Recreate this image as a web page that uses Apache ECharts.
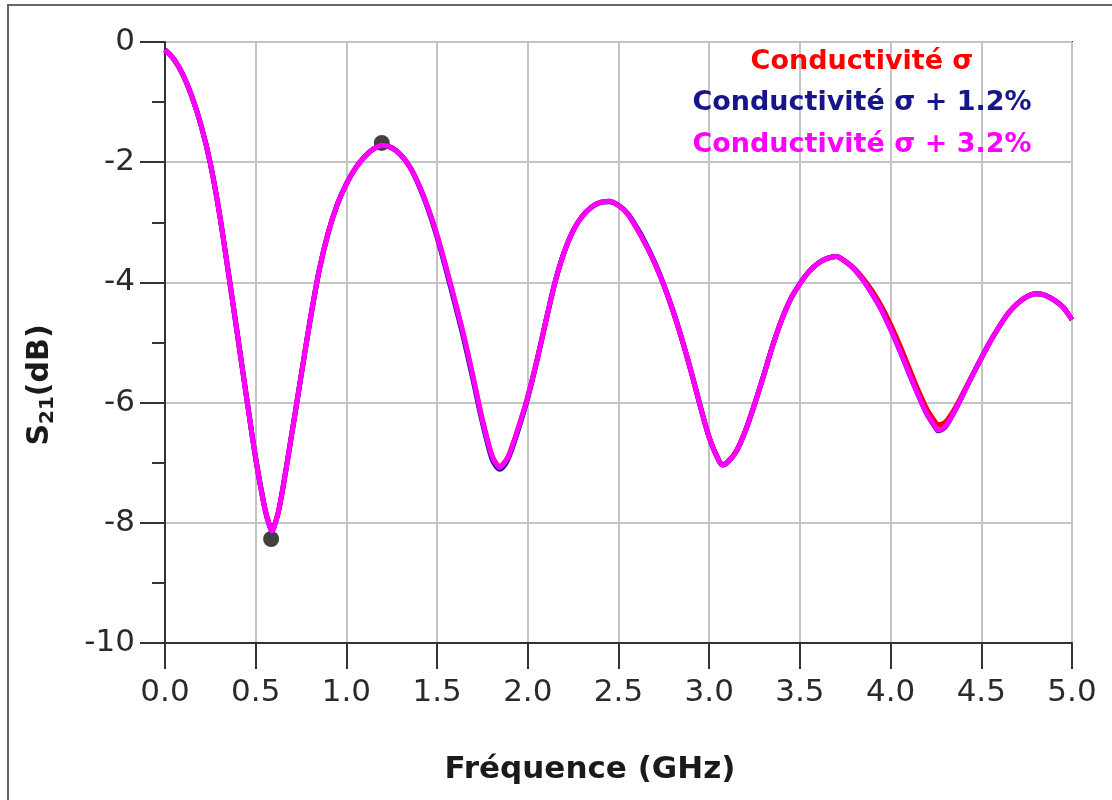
<!DOCTYPE html>
<html><head><meta charset="utf-8">
<script src="https://cdn.jsdelivr.net/npm/echarts@6/dist/echarts.min.js"></script>
<style>html,body{margin:0;padding:0;background:#fff}#c{width:1112px;height:800px}</style>
</head><body><div id="c"></div><script>
// Frequency (GHz)
const freq = [0,0.05,0.1,0.15,0.2,0.25,0.3,0.35,0.4,0.45,0.5,0.55,0.575,0.59,0.6,0.625,0.65,
0.7,0.75,0.8,0.85,0.9,0.95,1.0,1.05,1.1,1.15,1.2,1.25,1.3,1.35,1.4,1.45,1.5,1.55,1.6,1.65,1.7,1.75,1.8,
1.825,1.845,1.875,
1.9,1.95,2.0,2.05,2.1,2.15,2.2,2.25,2.3,2.35,2.4,2.45,2.5,2.55,2.6,2.65,2.7,2.75,2.8,2.85,2.9,2.95,3.0,3.05,
3.075,
3.1,3.15,3.2,3.25,3.3,3.35,3.4,3.45,3.5,3.55,3.6,3.65,3.7,3.75,3.8,3.85,3.9,3.95,4.0,4.05,4.1,4.15,4.2,4.25,
4.26,
4.3,4.35,4.4,4.45,4.5,4.55,4.6,4.65,4.7,4.75,4.8,4.85,4.9,4.95,5.0];

// S21 (dB) – conductivité σ
const sigma = [-0.13,-0.29,-0.55,-0.92,-1.4,-2.02,-2.85,-3.85,-4.88,-5.92,-6.93,-7.75,-8.03,-8.13,-8.07,-7.82,-7.42,
-6.5,-5.56,-4.63,-3.8,-3.17,-2.7,-2.36,-2.1,-1.91,-1.78,-1.72,-1.76,-1.88,-2.08,-2.38,-2.76,-3.22,-3.76,-4.33,-4.93,-5.6,-6.29,-6.86,
-7.01,-7.06,-6.98,
-6.84,-6.4,-5.9,-5.3,-4.64,-4.0,-3.5,-3.14,-2.9,-2.75,-2.67,-2.65,-2.72,-2.86,-3.1,-3.37,-3.68,-4.05,-4.47,-4.95,-5.48,-6.05,-6.58,-6.94,
-7.03,
-6.99,-6.8,-6.46,-6.03,-5.55,-5.05,-4.62,-4.27,-4.02,-3.82,-3.68,-3.6,-3.57,-3.65,-3.77,-3.94,-4.15,-4.4,-4.7,-5.04,-5.41,-5.78,-6.11,-6.34,
-6.37,
-6.33,-6.12,-5.84,-5.55,-5.26,-4.98,-4.73,-4.51,-4.35,-4.24,-4.19,-4.21,-4.29,-4.41,-4.62];

// S21 (dB) – conductivité σ + 1.2%
const sigma12 = [-0.13,-0.29,-0.55,-0.92,-1.4,-2.02,-2.85,-3.85,-4.88,-5.92,-6.93,-7.76,-8.04,-8.14,-8.08,-7.82,-7.42,
-6.5,-5.56,-4.63,-3.8,-3.17,-2.7,-2.36,-2.1,-1.91,-1.78,-1.72,-1.76,-1.88,-2.08,-2.39,-2.78,-3.25,-3.8,-4.38,-4.98,-5.65,-6.34,-6.92,
-7.06,-7.11,-7.03,
-6.88,-6.43,-5.92,-5.31,-4.64,-4.0,-3.5,-3.14,-2.9,-2.75,-2.67,-2.66,-2.72,-2.85,-3.08,-3.35,-3.67,-4.04,-4.47,-4.95,-5.48,-6.05,-6.58,-6.95,
-7.04,
-7.0,-6.81,-6.47,-6.03,-5.55,-5.05,-4.62,-4.27,-4.02,-3.82,-3.68,-3.6,-3.57,-3.65,-3.78,-3.97,-4.2,-4.46,-4.78,-5.13,-5.5,-5.86,-6.19,-6.43,
-6.47,
-6.41,-6.16,-5.86,-5.55,-5.26,-4.98,-4.73,-4.51,-4.35,-4.24,-4.19,-4.21,-4.29,-4.41,-4.62];

// S21 (dB) – conductivité σ + 3.2%
const sigma32 = [-0.13,-0.29,-0.55,-0.92,-1.4,-2.02,-2.85,-3.85,-4.88,-5.92,-6.93,-7.76,-8.04,-8.14,-8.08,-7.82,-7.42,
-6.5,-5.56,-4.63,-3.8,-3.17,-2.7,-2.36,-2.1,-1.91,-1.78,-1.72,-1.76,-1.88,-2.08,-2.38,-2.76,-3.22,-3.76,-4.33,-4.93,-5.6,-6.3,-6.87,
-7.02,-7.08,-6.99,
-6.85,-6.4,-5.9,-5.3,-4.64,-4.0,-3.5,-3.14,-2.9,-2.75,-2.67,-2.65,-2.72,-2.86,-3.1,-3.37,-3.68,-4.05,-4.47,-4.95,-5.48,-6.05,-6.58,-6.95,
-7.04,
-7.0,-6.81,-6.47,-6.03,-5.55,-5.05,-4.62,-4.27,-4.02,-3.82,-3.68,-3.6,-3.57,-3.65,-3.78,-3.97,-4.2,-4.46,-4.78,-5.13,-5.5,-5.86,-6.19,-6.42,
-6.46,
-6.4,-6.16,-5.86,-5.55,-5.26,-4.98,-4.73,-4.51,-4.35,-4.24,-4.19,-4.21,-4.29,-4.41,-4.62];

// Marker points (GHz, dB)
const markerFreq = [0.585, 1.195];
const markerVal = [-8.27, -1.68];

const seriesNames = ['Conductivité σ', 'Conductivité σ + 1.2%', 'Conductivité σ + 3.2%'];
const seriesColors = ['#ff0000', '#16168a', '#ff00ff'];
const xAxisName = 'Fréquence (GHz)';

const chart = echarts.init(document.getElementById('c'), null, {renderer: 'canvas'});
const allSeries = [sigma, sigma12, sigma32];

const lineSeries = allSeries.map((vals, i) => ({
  name: seriesNames[i],
  type: 'line',
  data: freq.map((f, j) => [f, vals[j]]),
  showSymbol: false,
  smooth: 0.3,
  lineStyle: {color: seriesColors[i], width: 5},
  itemStyle: {color: seriesColors[i]},
  z: 3 + i,
  animation: false
}));

const markerSeries = {
  type: 'scatter',
  data: markerFreq.map((f, i) => [f, markerVal[i]]),
  symbol: 'circle',
  symbolSize: 16,
  itemStyle: {color: '#111'},
  z: 2,
  animation: false
};

const tickFont = 'DejaVu Sans';
const boldFont = 'DejaVu Sans';

chart.setOption({
  backgroundColor: '#fff',
  animation: false,
  grid: {left: 165, right: 40, top: 42, bottom: 157, show: true, borderColor: '#333', borderWidth: 2, backgroundColor: 'transparent'},
  xAxis: {
    type: 'value', min: 0, max: 5, interval: 0.5,
    axisLine: {show: true, onZero: false, lineStyle: {color: '#333', width: 2}},
    axisTick: {show: true, length: 26, lineStyle: {color: '#333', width: 2}},
    axisLabel: {formatter: v => v.toFixed(1), fontSize: 31, fontFamily: tickFont, color: '#2a2a2a', margin: 34},
    splitLine: {show: true, lineStyle: {color: '#c4c4c4', width: 2}}
  },
  yAxis: {
    type: 'value', min: -10, max: 0, interval: 2,
    axisLine: {show: true, lineStyle: {color: '#333', width: 2}},
    axisTick: {show: true, length: 25, lineStyle: {color: '#333', width: 2}},
    minorTick: {show: true, splitNumber: 2, length: 13, lineStyle: {color: '#333', width: 2}},
    axisLabel: {fontSize: 31, fontFamily: tickFont, color: '#2a2a2a', margin: 30},
    splitLine: {show: true, lineStyle: {color: '#c4c4c4', width: 2}}
  },
  series: [markerSeries].concat(lineSeries),
  graphic: [
    {type: 'rect', silent: true, shape: {x: 8, y: 5, width: 1200, height: 900},
     style: {fill: 'none', stroke: '#666', lineWidth: 2}, z: -10},
    {type: 'text', x: 862, y: 62, style: {text: seriesNames[0], fill: seriesColors[0], fontSize: 27, fontWeight: 'bold', fontFamily: boldFont, align: 'center', verticalAlign: 'middle'}, z: 20},
    {type: 'text', x: 862, y: 103, style: {text: seriesNames[1], fill: seriesColors[1], fontSize: 27, fontWeight: 'bold', fontFamily: boldFont, align: 'center', verticalAlign: 'middle'}, z: 20},
    {type: 'text', x: 862, y: 145, style: {text: seriesNames[2], fill: seriesColors[2], fontSize: 27, fontWeight: 'bold', fontFamily: boldFont, align: 'center', verticalAlign: 'middle'}, z: 20},
    {type: 'text', x: 590, y: 770, style: {text: xAxisName, fill: '#1a1a1a', fontSize: 31, fontWeight: 'bold', fontFamily: boldFont, align: 'center', verticalAlign: 'middle'}, z: 20},
    {type: 'text', x: 40, y: 385, rotation: Math.PI / 2,
     style: {text: '{a|S}{b|21}{a|(dB)}', align: 'center', verticalAlign: 'middle',
       rich: {
         a: {fontSize: 30, fontWeight: 'bold', fontFamily: boldFont, fill: '#1a1a1a', lineHeight: 36},
         b: {fontSize: 20, fontWeight: 'bold', fontFamily: boldFont, fill: '#1a1a1a', verticalAlign: 'bottom', lineHeight: 36}
       }}, z: 20}
  ]
});
</script></body></html>
